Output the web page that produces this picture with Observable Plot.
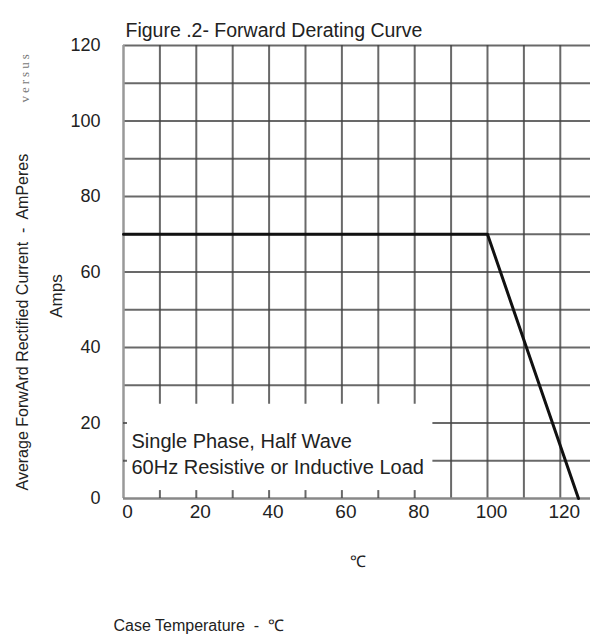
<!DOCTYPE html>
<html>
<head>
<meta charset="utf-8">
<script src="https://cdn.jsdelivr.net/npm/d3@7"></script>
<script src="https://cdn.jsdelivr.net/npm/@observablehq/plot@0.6"></script>
<style>
  html, body { margin: 0; padding: 0; background: #fff; }
  #chart svg { display: block; }
</style>
</head>
<body>
<div id="chart"></div>
<script>
// ---- data ----
const temperature = [0, 100, 125];        // Case temperature, °C
const current = [70, 70, 0];              // Average forward rectified current, A
const gridX = [10, 20, 30, 40, 50, 60, 70, 80, 90, 100, 110, 120];
const gridY = [10, 20, 30, 40, 50, 60, 70, 80, 90, 100, 110, 120];
const xTickLabels = [0, 20, 40, 60, 80, 100, 120];
const yTickLabels = [0, 20, 40, 60, 80, 100, 120];
const bottomTicks = [10, 20, 30, 40, 50, 60, 70, 80];
const leftTicks = [10, 20];
const noteBox = {x: 85, y: 25};           // region of the grid left blank for the note
const xMax = 128.3;
const yMax = 120;

const title = "Figure .2- Forward Derating Curve";
const noteLines = ["Single Phase, Half Wave", "60Hz Resistive or Inductive Load"];
const yTitle = "Average ForwArd Rectified Current  -  AmPeres";
const yTitleTail = "versus";
const yUnit = "Amps";
const xUnit = "\u2103";
const xTitle = "Case Temperature  -  \u2103";

const data = temperature.map((t, i) => ({t, a: current[i]}));
const font = "Liberation Sans, Arial, sans-serif";
const gridColor = "#444";

const chart = Plot.plot({
  width: 590,
  height: 636,
  marginLeft: 123,
  marginRight: 0,
  marginTop: 45,
  marginBottom: 138,
  style: {fontFamily: font, color: "#222", background: "#fff"},
  x: {domain: [0, xMax]},
  y: {domain: [0, yMax]},
  marks: [
    // vertical grid lines (short ones stop above the note box)
    Plot.ruleX(gridX, {x: d => d, y1: d => d <= noteBox.x ? noteBox.y : 0, y2: yMax,
      stroke: gridColor, strokeWidth: 2, strokeOpacity: 0.8}),
    // horizontal grid lines (lower ones start right of the note box)
    Plot.ruleY(gridY, {y: d => d, x1: d => d <= noteBox.y ? noteBox.x : 0, x2: xMax,
      stroke: gridColor, strokeWidth: 2, strokeOpacity: 0.8}),
    // axis lines
    Plot.ruleX([0], {y1: 0, y2: yMax, stroke: "#999", strokeWidth: 2.5}),
    Plot.ruleY([0], {x1: 0, x2: xMax, stroke: "#888", strokeWidth: 2.5}),
    // small inner ticks
    Plot.ruleX(bottomTicks, {x: d => d, y1: 0, y2: 2.1, stroke: gridColor, strokeWidth: 2, strokeOpacity: 0.8}),
    Plot.ruleY(leftTicks, {y: d => d, x1: 0, x2: 1.1, stroke: gridColor, strokeWidth: 2, strokeOpacity: 0.8}),
    // derating curve
    Plot.line(data, {x: "t", y: "a", stroke: "#111", strokeWidth: 3}),
    // axes
    Plot.axisX({ticks: xTickLabels, tickSize: 0, tickPadding: 6, fontSize: 19, label: null, dx: 4}),
    Plot.axisY({ticks: yTickLabels, tickSize: 0, tickPadding: 23, fontSize: 18, label: null}),
    // title
    Plot.text([title], {frameAnchor: "top-left", dx: 2, dy: -15, textAnchor: "start",
      lineAnchor: "middle", fontSize: 19.5, fill: "#222"}),
    // note
    Plot.text([noteLines.join("\n")], {frameAnchor: "bottom-left", dx: 8, dy: -46,
      textAnchor: "start", lineAnchor: "middle", lineHeight: 1.3, fontSize: 20, fill: "#222"}),
    // y axis title
    Plot.text([yTitle], {frameAnchor: "bottom-left", dx: -101, dy: -8, rotate: -90,
      textAnchor: "start", lineAnchor: "middle", fontSize: 16, fill: "#222"}),
    Plot.text([yTitleTail], {frameAnchor: "top-left", dx: -99, dy: 57, rotate: -90,
      textAnchor: "start", lineAnchor: "middle", fontSize: 13, fontFamily: "Liberation Serif, serif", fill: "#777"}),
    Plot.text([yUnit], {frameAnchor: "left", dx: -67, dy: 24, rotate: -90,
      textAnchor: "middle", lineAnchor: "middle", fontSize: 17, fill: "#222"}),
    // x unit and title below
    Plot.text([xUnit], {frameAnchor: "bottom-left", dx: 234, dy: 63, textAnchor: "middle",
      lineAnchor: "middle", fontSize: 16, fill: "#222"}),
    Plot.text([xTitle], {frameAnchor: "bottom-left", dx: -10, dy: 127, textAnchor: "start",
      lineAnchor: "middle", fontSize: 16, fill: "#222"})
  ]
});
d3.select(chart).selectAll("text")
  .filter(function() { return this.textContent === yTitleTail; })
  .attr("letter-spacing", "3px");
document.getElementById("chart").append(chart);
</script>
</body>
</html>
